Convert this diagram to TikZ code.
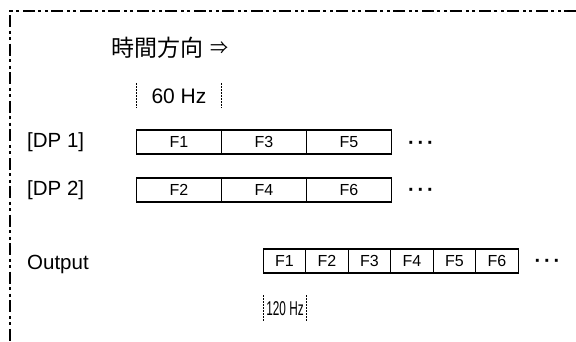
\documentclass[tikz,border=0pt]{standalone}
\usepackage{fontspec}
\setmainfont{Liberation Sans}
\newfontfamily\jpfont{Noto Sans CJK JP}
\usepackage{tikz}
\usetikzlibrary{positioning}

\tikzset{
  lbl/.style={anchor=west, inner sep=0pt, font=\fontsize{20.5}{24}\selectfont},
  cell/.style={draw, line width=1.1pt, minimum height=24pt, inner sep=0pt,
    outer sep=0pt, anchor=west, text height=11.6pt, text depth=0pt,
    font=\fontsize{16}{18}\selectfont},
  dpcell/.style={cell, minimum width=85pt},
  outcell/.style={cell, minimum width=42.5pt},
  hzmark/.style={line width=1pt, dash pattern=on 1.5pt off 1.5pt},
  framedash/.style={line width=1.3pt,
    dash pattern=on 12pt off 3.5pt on 3pt off 3.5pt on 3pt off 3.5pt},
  more/.style={anchor=base, inner sep=0pt, font=\bfseries\fontsize{20}{24}\selectfont}
}
\newcommand{\threedots}{\makebox[9.5pt]{·}\makebox[9.5pt]{·}\makebox[9.5pt]{·}}

\begin{document}
\begin{tikzpicture}[x=1pt, y=-1pt]
  \useasboundingbox (0,0) rectangle (576,341);

  % Frame (top and left edges only)
  \draw[framedash] (576,11) -- (10,11) -- (10,341);

  % Title
  \node[lbl, font=\jpfont\fontsize{23}{26}\selectfont] (title) at (111,48) {時間方向};
  \node[inner sep=0pt, font=\jpfont\fontsize{18}{20}\selectfont, right=7pt of title] (arrow) {⇒};

  % 60 Hz period
  \draw[hzmark] (136.7,83) -- (136.7,108);
  \draw[hzmark] (221.7,83) -- (221.7,108);
  \node[inner sep=0pt, font=\fontsize{21}{24}\selectfont] (hz60) at (179,96) {60 Hz};

  % Rows
  \node[lbl] (dp1) at (27,142) {[DP 1]};
  \node[lbl] (dp2) at (27,190) {[DP 2]};
  \node[lbl] (out) at (27,264) {Output};

  % DP 1 frames: odd
  \foreach \i/\lbl in {0/F1, 1/F3, 2/F5}
    \node[dpcell] (a\i) at (136.5+85*\i,142) {\lbl};
  % DP 2 frames: even
  \foreach \i/\lbl in {0/F2, 1/F4, 2/F6}
    \node[dpcell] (b\i) at (136.5+85*\i,190) {\lbl};
  % Output frames at double rate
  \foreach \i in {0,...,5}
    \pgfmathtruncatemacro{\n}{\i+1}
    \node[outcell] (c\i) at (263.3+42.5*\i,261) {F\n};

  \node[more] (dots1) at (421,149) {\threedots};
  \node[more] (dots2) at (421,196.5) {\threedots};
  \node[more] (dots3) at (547.5,267) {\threedots};

  % 120 Hz period
  \draw[hzmark] (263.3,295) -- (263.3,321);
  \draw[hzmark] (306,295) -- (306,321);
  \node[inner sep=0pt, font=\fontsize{20}{22}\selectfont] (hz120) at (285,308.5)
    {\scalebox{0.59}[1]{120 Hz}};
\end{tikzpicture}
\end{document}
